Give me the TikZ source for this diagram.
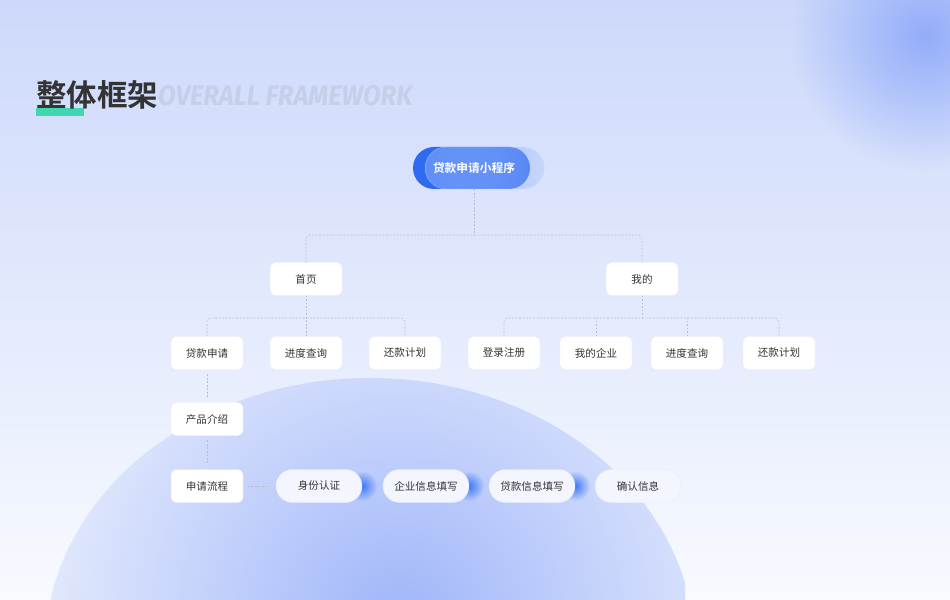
\documentclass[tikz,border=0pt]{standalone}
\usepackage{fontspec}
\newfontfamily\cjk{Noto Sans CJK SC}[BoldFont={Noto Sans CJK SC Bold}]
\newfontfamily\latinhead{Fira Sans}
\usetikzlibrary{fadings}
\pgfdeclarelayer{background}
\pgfsetlayers{background,main}
\definecolor{bgtop}{HTML}{CDD9FB}
\definecolor{bgmid}{HTML}{E4EBFD}
\definecolor{bgbot}{HTML}{F8FAFF}
\definecolor{arcfill}{HTML}{E3EAFD}
\definecolor{blobblue}{HTML}{A0B6FA}
\definecolor{cornerblue}{HTML}{93ADF9}
\definecolor{glowblue}{HTML}{3F78F6}
\definecolor{boxline}{HTML}{E6ECFB}
\definecolor{txt}{HTML}{333333}
\definecolor{linkcol}{HTML}{B4BCCF}
\definecolor{pillfill}{HTML}{F3F6FF}
\definecolor{rootdeep}{HTML}{2F6BF0}
\definecolor{rootleft}{HTML}{5F90F7}
\definecolor{rootright}{HTML}{A4BDFB}
\definecolor{mint}{HTML}{3FD8B0}
\definecolor{ghost}{HTML}{C6CFE8}
\tikzfading[name=glow, inner color=transparent!0, outer color=transparent!100]
\tikzfading[name=pillfade, left color=transparent!0, right color=transparent!70]
\tikzset{
  box/.style={draw=boxline, line width=0.3pt, fill=white, rounded corners=0.15cm,
    minimum width=2.16cm, minimum height=0.99cm, inner sep=0pt, text=txt,
    font=\cjk\fontsize{9}{11}\selectfont},
  pill/.style={box, fill=pillfill, rounded corners=0.495cm, minimum width=2.58cm},
  roottext/.style={text=white, inner sep=0pt, minimum height=1.26cm,
    font=\cjk\bfseries\fontsize{10}{12}\selectfont},
  link/.style={draw=linkcol, line width=0.45pt, dash pattern=on 1.5pt off 1.5pt,
    rounded corners=0.12cm},
  glowdot/.style={fill=glowblue, path fading=glow},
}
\begin{document}
\begin{tikzpicture}[x=0.03cm, y=-0.03cm]
\useasboundingbox (0,0) rectangle (950,600);
\begin{pgfonlayer}{background}
  \shade[top color=bgtop, middle color=bgmid, bottom color=bgbot] (0,0) rectangle (950,600);
  \begin{scope}
    \clip (0,0) rectangle (950,600);
    \fill[cornerblue, path fading=glow] (925,35) circle (135);
  \end{scope}
  % arc in the lower half
  \begin{scope}
    \clip (0,0) rectangle (685,600);
    \fill[arcfill] (370,650) ellipse [x radius=325, y radius=272];
    \clip (370,650) ellipse [x radius=325, y radius=272];
    \fill[blobblue, path fading=glow] (400,620) circle (360);
  \end{scope}
\end{pgfonlayer}

% title
\node[anchor=base west, inner sep=0pt, text=ghost] (subtitle) at (158,106)
  {\resizebox{7.62cm}{0.6cm}{\latinhead\bfseries\itshape OVERALL FRAMEWORK}};
\fill[mint] (36,108) rectangle (84,116);
\node[anchor=base west, inner sep=0pt, text=txt,
  font=\cjk\bfseries\fontsize{26}{30}\selectfont] (title) at (36,107) {整体框架};

% root
\fill[rootdeep, rounded corners=0.63cm] (413,147) rectangle (530,189);
\shade[left color=rootleft, right color=rootright, path fading=pillfade,
  rounded corners=0.63cm] (425,147) rectangle (545,189);
\draw[white, opacity=0.35, line width=0.4pt, rounded corners=0.63cm] (425,147) rectangle (545,189);
\node[roottext] (root) at (474,168) {贷款申请小程序};

% tree
\node[box] (home) at (306,279) {首页};
\node[box] (mine) at (642,279) {我的};
\node[box] (apply) at (207,353) {贷款申请};
\node[box] (progA) at (306,353) {进度查询};
\node[box] (repayA) at (405,353) {还款计划};
\node[box] (login) at (504,353) {登录注册};
\node[box] (firm) at (596,353) {我的企业};
\node[box] (progB) at (687,353) {进度查询};
\node[box] (repayB) at (779,353) {还款计划};
\node[box] (intro) at (207,419) {产品介绍};
\node[box] (flow) at (207,486) {申请流程};

% flow
\node[pill] (idcheck) at (319,486) {身份认证};
\node[pill] (firminfo) at (426,486) {企业信息填写};
\node[pill] (loaninfo) at (532,486) {贷款信息填写};
\node[pill] (confirm) at (638,486) {确认信息};
\begin{pgfonlayer}{background}
  \foreach \p in {idcheck,firminfo,loaninfo}
    \fill[glowdot] (\p.east) circle (15);
\end{pgfonlayer}

% links
\coordinate (j0) at (474,235);
\coordinate (j1) at (306,318);
\coordinate (j2) at (642,318);
\draw[link] (root.south) -- (j0);
\draw[link] (home.north) |- (j0) -| (mine.north);
\draw[link] (home.south) -- (progA.north);
\draw[link] (apply.north) |- (j1) -| (repayA.north);
\draw[link] (mine.south) -- (j2);
\draw[link] (login.north) |- (j2) -| (repayB.north);
\draw[link] (firm.north) -- (firm.north |- j2);
\draw[link] (progB.north) -- (progB.north |- j2);
\draw[link, shorten <=4pt, shorten >=4pt] (apply) -- (intro);
\draw[link, shorten <=4pt, shorten >=4pt] (intro) -- (flow);
\draw[link, shorten <=4pt, shorten >=6pt] (flow) -- (idcheck);
\end{tikzpicture}
\end{document}
